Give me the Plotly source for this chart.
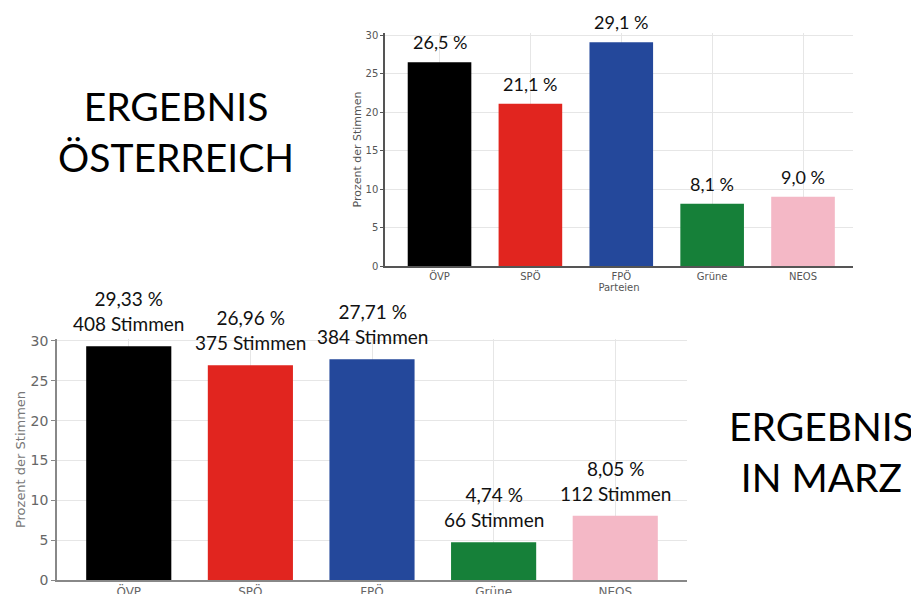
import plotly.graph_objects as go

parties = ["ÖVP", "SPÖ", "FPÖ", "Grüne", "NEOS"]
colors = ["#000000", "#e1251f", "#24489b", "#168039", "#f4b8c6"]

austria_pct = [26.5, 21.1, 29.1, 8.1, 9.0]
austria_labels = ["26,5 %", "21,1 %", "29,1 %", "8,1 %", "9,0 %"]

marz_pct = [29.33, 26.96, 27.71, 4.74, 8.05]
marz_votes = [408, 375, 384, 66, 112]
marz_pct_labels = ["29,33 %", "26,96 %", "27,71 %", "4,74 %", "8,05 %"]

y_ticks = [0, 5, 10, 15, 20, 25, 30]

W, H = 919, 594
OFF = 8  # page body margin offset


def px(x):
    return (x - OFF) / W


def py(y):
    return 1 - (y - OFF) / H


LABEL_FONT = "Lato, 'Open Sans', sans-serif"
AXIS_FONT = "'DejaVu Sans', sans-serif"

fig = go.Figure()

fig.add_trace(go.Bar(x=parties, y=austria_pct, marker=dict(color=colors, line=dict(width=0)),
                     width=0.7, xaxis="x", yaxis="y", showlegend=False, hoverinfo="x+y"))
fig.add_trace(go.Bar(x=parties, y=marz_pct, marker=dict(color=colors, line=dict(width=0)),
                     width=0.7, xaxis="x2", yaxis="y2", showlegend=False, hoverinfo="x+y"))

# value labels (top chart)
for p, v, t in zip(parties, austria_pct, austria_labels):
    fig.add_annotation(x=p, y=v, xref="x", yref="y", text=t, showarrow=False,
                       xanchor="center", yanchor="bottom", yshift=7,
                       font=dict(family=LABEL_FONT, size=18, color="#111"))

# value labels (bottom chart)
for p, v, t, n in zip(parties, marz_pct, marz_pct_labels, marz_votes):
    fig.add_annotation(x=p, y=v, xref="x2", yref="y2", text=f"{t}<br>{n} Stimmen",
                       showarrow=False, xanchor="center", yanchor="bottom", yshift=9,
                       font=dict(family=LABEL_FONT, size=19, color="#111"))

# big headings
fig.add_annotation(x=px(176), y=py(131), xref="paper", yref="paper",
                   xanchor="center", yanchor="middle",
                   text="ERGEBNIS<br>ÖSTERREICH", showarrow=False,
                   font=dict(family=LABEL_FONT, size=39, color="#000"), align="center")
fig.add_annotation(x=px(821), y=py(451), xref="paper", yref="paper",
                   xanchor="center", yanchor="middle",
                   text="ERGEBNIS<br>IN MARZ", showarrow=False,
                   font=dict(family=LABEL_FONT, size=39, color="#000"), align="center")

grid = "#e6e6e6"

fig.update_layout(
    width=W, height=H,
    margin=dict(l=0, r=0, t=0, b=0, autoexpand=False),
    paper_bgcolor="white", plot_bgcolor="white",
    bargap=0.3,
    xaxis=dict(domain=[px(385), px(853)], range=[-0.6, 4.55], showline=True, automargin=False,
               linecolor="#555", linewidth=1.5, showgrid=True, gridcolor=grid,
               ticks="", tickfont=dict(family=AXIS_FONT, size=10, color="#555"),
               title=dict(text="Parteien", font=dict(family=AXIS_FONT, size=10, color="#555"), standoff=2),
               fixedrange=True),
    yaxis=dict(domain=[py(266), py(33)], range=[0, 30.3], tickvals=y_ticks, automargin=False,
               showline=True, linecolor="#555", linewidth=1.5, showgrid=True, gridcolor=grid,
               ticks="outside", ticklen=3, tickcolor="#555", zeroline=False,
               tickfont=dict(family=AXIS_FONT, size=10, color="#555"),
               title=dict(text="Prozent der Stimmen", font=dict(family=AXIS_FONT, size=11, color="#555"), standoff=2),
               fixedrange=True),
    xaxis2=dict(domain=[px(57), px(687)], range=[-0.59, 4.59], showline=True, automargin=False,
                linecolor="#888", linewidth=1.5, showgrid=True, gridcolor=grid,
                ticks="", anchor="y2", tickfont=dict(family=AXIS_FONT, size=12, color="#666"),
                fixedrange=True),
    yaxis2=dict(domain=[py(580), py(339)], range=[0, 30.25], tickvals=y_ticks, anchor="x2",
                automargin=False,
                showline=True, linecolor="#888", linewidth=1.5, showgrid=True, gridcolor=grid,
                ticks="outside", ticklen=4, tickcolor="#888", zeroline=False,
                tickfont=dict(family=AXIS_FONT, size=14, color="#666"),
                title=dict(text="Prozent der Stimmen", font=dict(family=AXIS_FONT, size=13, color="#777"), standoff=2),
                fixedrange=True),
)

fig.write_html("out.html")
